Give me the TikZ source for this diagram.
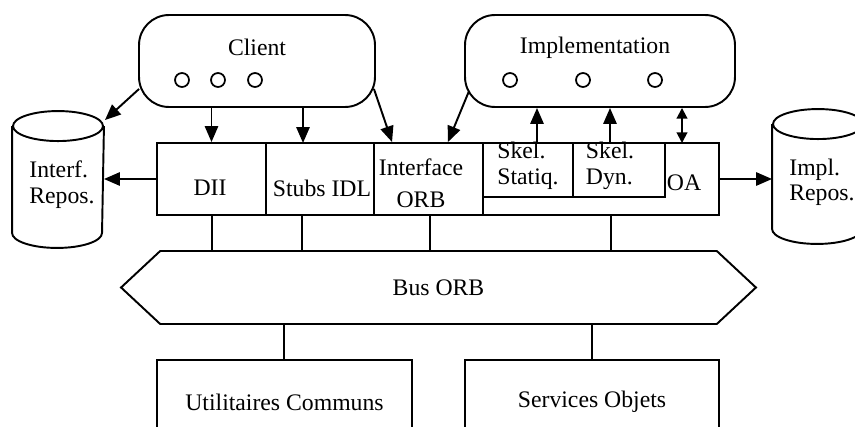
\documentclass[tikz,border=0pt]{standalone}
\usepackage{fontspec}
\setmainfont{Liberation Serif}
\usetikzlibrary{arrows.meta, calc, shapes.symbols}
\tikzset{
    blk/.style={draw, line width=1.1pt, inner sep=0pt},
    grp/.style={draw, line width=1.1pt, rounded corners=0.6cm, inner sep=0pt},
    obj/.style={circle, draw, line width=1pt, inner sep=0pt, minimum size=0.28cm},
    txt/.style={inner sep=0pt, align=left},
    bus/.style={draw, line width=1.1pt, shape=signal, signal to=west and east, signal pointer angle=86, inner sep=0pt},
    orb/.style={>={Triangle[length=9pt,width=7.5pt]}, line width=1.1pt, font=\fontsize{13.5}{14.5}\selectfont}
}

\begin{document}
\begin{tikzpicture}[orb, x=0.02cm, y=-0.02cm]
    \useasboundingbox (0,0) rectangle (855,426);
    \clip (0,0) rectangle (855,426);

    % client and implementation
    \node[grp, minimum width=4.72cm, minimum height=1.84cm] (client) at (257,61) {};
    \node (clientT) at (257,47) {Client};
    \node[obj] (c1) at (182,80) {};
    \node[obj] (c2) at (218,80) {};
    \node[obj] (c3) at (255,80) {};
    \node[grp, minimum width=5.4cm, minimum height=1.84cm] (impl) at (600,61) {};
    \node (implT) at (595,48) {Implementation};
    \node[obj] (i1) at (510,80) {};
    \node[obj] (i2) at (583,80) {};
    \node[obj] (i3) at (655,80) {};

    % ORB core
    \node[blk, minimum width=2.18cm, minimum height=1.44cm] (dii) at (211.5,179) {};
    \node (diiT) at (210,188) {DII};
    \node[blk, minimum width=2.16cm, minimum height=1.44cm] (stubs) at (320,179) {};
    \node (stubsT) at (322,188) {Stubs IDL};
    \node[blk, minimum width=2.18cm, minimum height=1.44cm] (iorb) at (428.5,179) {};
    \node[txt, align=center] (iorbT) at (421,183.5) {Interface\\[4pt]ORB};
    \node[blk, minimum width=4.72cm, minimum height=1.44cm] (oa) at (601,179) {};
    \node[anchor=west, inner sep=0pt] (oaT) at (666,183) {OA};
    \node[blk, minimum width=1.8cm, minimum height=1.08cm] (skels) at (528,170) {};
    \node[txt] (skelsT) at (528,166) {Skel.\\Statiq.};
    \node[blk, minimum width=1.84cm, minimum height=1.08cm] (skeld) at (619,170) {};
    \node[txt] (skeldT) at (610,166) {Skel.\\Dyn.};

    % repositories
    \node[minimum width=1.8cm, minimum height=2.7cm] (irep) at (58,179.5) {};
    \node[txt] (irepT) at (62,184.5) {Interf.\\Repos.};
    \draw ($(irep.north west)+(0,15)$) -- ($(irep.south west)+(0,-15)$)
        arc[start angle=180, end angle=360, x radius=0.9cm, y radius=0.3cm]
        -- ($(irep.north east)+(0,15)$);
    \draw ($(irep.north)+(0,15)$) ellipse[x radius=0.9cm, y radius=0.3cm];
    \node[minimum width=1.8cm, minimum height=2.66cm] (rrep) at (818,176.5) {};
    \node[txt] (rrepT) at (822,182.5) {Impl.\\Repos.};
    \draw ($(rrep.north west)+(0,15)$) -- ($(rrep.south west)+(0,-15)$)
        arc[start angle=180, end angle=360, x radius=0.9cm, y radius=0.3cm]
        -- ($(rrep.north east)+(0,15)$);
    \draw ($(rrep.north)+(0,15)$) ellipse[x radius=0.9cm, y radius=0.3cm];

    % bus and services
    \node[bus, minimum width=12.7cm, minimum height=1.46cm] (bus) at (438.5,287.5) {Bus ORB};
    \node[blk, minimum width=5.1cm, minimum height=1.68cm] (util) at (284.5,402) {Utilitaires Communs};
    \node[blk, minimum width=5.08cm, minimum height=1.68cm] (serv) at (592,402) {Services Objets};

    \coordinate (cs) at (303,143);
    \coordinate (ks) at (537,143);
    \coordinate (kd) at (610,143);
    \coordinate (ko) at (682,143);
    \coordinate (bd) at (212,215);
    \coordinate (bs) at (302,215);
    \coordinate (bi) at (430,215);
    \coordinate (bo) at (611,215);
    \coordinate (bu) at (284,324);

    \draw[->] (dii.west) -- (dii.west -| irep.east);
    \draw[->] (oa.east) -- (oa.east -| rrep.west);
    \draw[->] ($(client.south west)+(1,-19)$) -- ($(irep.north east)+(1,9)$);
    \draw[->] (dii.north |- client.south) -- (dii.north);
    \draw[->] (cs |- client.south) -- (cs);
    \draw[->] ($(client.south east)+(-2,-19)$) -- ($(iorb.north west)+(19,0)$);
    \draw[->] ($(impl.south west)+(5,-17)$) -- ($(iorb.north east)+(-36,0)$);
    \draw[->] (ks) -- (ks |- impl.south);
    \draw[->] (kd) -- (kd |- impl.south);
    \draw[{Triangle[length=6pt,width=6pt]}-{Triangle[length=6pt,width=6pt]}] (ko) -- (ko |- impl.south);

    \draw (bd) -- (bd |- bus.north);
    \draw (bs) -- (bs |- bus.north);
    \draw (bi) -- (bi |- bus.north);
    \draw (bo) -- (bo |- bus.north);
    \draw (bu) -- (bu |- util.north);
    \draw (serv.north) -- (serv.north |- bus.south);
\end{tikzpicture}
\end{document}
